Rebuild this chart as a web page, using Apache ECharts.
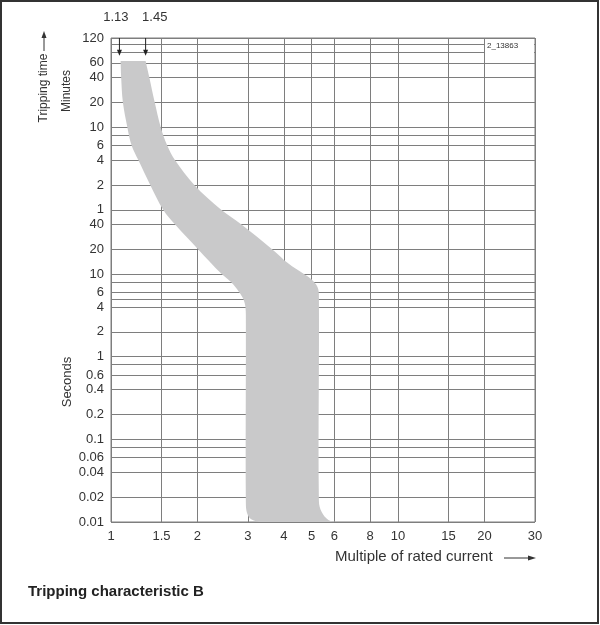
<!DOCTYPE html>
<html>
<head>
<meta charset="utf-8">
<script src="https://cdn.jsdelivr.net/npm/echarts@6/dist/echarts.min.js"></script>
<style>
html,body{margin:0;padding:0;background:#fff;}
#c{width:600px;height:625px;}
</style>
</head>
<body>
<div id="c"></div>
<script>
// ---- data (current as multiple of rated current, time in seconds) ----
const xTicks = [1, 1.5, 2, 3, 4, 5, 6, 8, 10, 15, 20, 30];
const yGridSeconds = [7200, 6000, 4800, 3600, 2400, 1200, 600, 480, 360, 240, 120, 60,
  40, 20, 10, 8, 6, 5, 4, 2, 1, 0.8, 0.6, 0.4, 0.2, 0.1, 0.08, 0.06, 0.04, 0.02, 0.01];
const yLabelSeconds = [7200, 3600, 2400, 1200, 600, 360, 240, 120, 60,
  40, 20, 10, 6, 4, 2, 1, 0.6, 0.4, 0.2, 0.1, 0.06, 0.04, 0.02, 0.01];
// left (lower-current) edge of the tripping band, top to bottom
const bandLeft = [[1.08, 3800], [1.085, 2400], [1.10, 1200], [1.14, 600], [1.18, 360],
  [1.245, 240], [1.37, 120], [1.52, 60], [1.67, 40], [2.01, 20], [2.43, 10], [2.62, 8],
  [2.80, 6], [2.89, 5], [2.94, 4], [2.95, 2.5], [2.95, 0.017], [2.98, 0.0128], [3.08, 0.0108], [3.3, 0.01]];
// right (higher-current) edge of the tripping band, bottom to top
const bandRight = [[6.15, 0.01], [5.72, 0.0106], [5.42, 0.0132], [5.3, 0.018], [5.3, 5.5],
  [5.24, 7], [5.0, 8.6], [4.70, 10], [4.14, 13.5], [3.64, 20], [2.84, 40], [2.42, 60], [1.95, 120],
  [1.67, 240], [1.57, 360], [1.49, 600], [1.42, 1200], [1.36, 2400], [1.32, 3800]];
const arrowCurrents = [1.07, 1.32];
const arrowLabels = ['1.13', '1.45'];
const arrowLabelCurrents = [1.04, 1.42];
const arrowTipSeconds = 4400;
const yMaxSeconds = 7200;
const yMinSeconds = 0.01;

const bandPolygon = bandLeft.concat(bandRight);
const FONT = 'Liberation Sans, Arial, sans-serif';
const GRID_COLOR = '#7e7e7e';

function fmtTime(v) {
  if (v >= 60) return String(Math.round(v / 60 * 1000) / 1000);
  return String(Math.round(v * 1000) / 1000);
}

const chart = echarts.init(document.getElementById('c'), null, {renderer: 'canvas'});
const option = {
  animation: false,
  backgroundColor: '#fff',
  grid: {left: 111, right: 65, top: 38, bottom: 103, show: true, borderColor: GRID_COLOR, borderWidth: 1},
  xAxis: {
    type: 'log', logBase: 10, min: 1, max: 30,
    axisLine: {show: false},
    axisTick: {show: false, customValues: xTicks},
    axisLabel: {customValues: xTicks, margin: 8, fontSize: 13, color: '#333', fontFamily: FONT,
      formatter: v => String(v)},
    splitLine: {show: true, lineStyle: {color: GRID_COLOR, width: 1}}
  },
  yAxis: {
    type: 'log', logBase: 10, min: yMinSeconds, max: yMaxSeconds,
    axisLine: {show: false},
    axisTick: {show: false, customValues: yGridSeconds},
    axisLabel: {customValues: yLabelSeconds, margin: 7, fontSize: 13, color: '#333', fontFamily: FONT,
      formatter: v => fmtTime(v)},
    splitLine: {show: true, lineStyle: {color: GRID_COLOR, width: 1}}
  },
  series: [
    {
      type: 'custom',
      coordinateSystem: 'cartesian2d',
      data: bandPolygon,
      z: 3,
      silent: true,
      renderItem: function (params, api) {
        if (params.dataIndex !== 0) return null;
        // corners of the band (top and bottom) are kept sharp by doubling them
        const sharp = [0, bandLeft.length - 1, bandLeft.length, bandPolygon.length - 1];
        const pts = [];
        bandPolygon.forEach((p, i) => {
          const c = api.coord(p);
          pts.push(c);
          if (sharp.indexOf(i) >= 0) pts.push(c.slice());
        });
        return {type: 'polygon', shape: {points: pts, smooth: 0.35}, style: {fill: '#c9c9ca', stroke: null}};
      }
    },
    {
      type: 'custom',
      coordinateSystem: 'cartesian2d',
      data: arrowCurrents.map((x, i) => [x, arrowTipSeconds, i]),
      z: 4,
      silent: true,
      renderItem: function (params, api) {
        const i = api.value(2);
        const x = api.value(0);
        const top = api.coord([x, yMaxSeconds]);
        const tip = api.coord([x, api.value(1)]);
        const lblPos = api.coord([arrowLabelCurrents[i], yMaxSeconds]);
        return {
          type: 'group',
          children: [
            {type: 'line', shape: {x1: top[0], y1: top[1], x2: tip[0], y2: tip[1] - 4},
              style: {stroke: '#222', lineWidth: 1}},
            {type: 'polygon', shape: {points: [[tip[0] - 2.5, tip[1] - 6], [tip[0] + 2.5, tip[1] - 6], [tip[0], tip[1]]]},
              style: {fill: '#222'}},
            {type: 'text', x: lblPos[0], y: lblPos[1] - 21,
              style: {text: arrowLabels[i], align: 'center', verticalAlign: 'middle', font: '13px ' + FONT, fill: '#333'}}
          ]
        };
      }
    }
  ],
  graphic: [
    {type: 'rect', shape: {x: 1, y: 1, width: 597, height: 622}, style: {fill: null, stroke: '#333', lineWidth: 2}, z: 100},
    {type: 'rect', shape: {x: 485, y: 39, width: 49, height: 14}, style: {fill: '#fff'}, z: 50},
    {type: 'text', x: 487, y: 46, style: {text: '2_13863', font: '8px ' + FONT, fill: '#333', verticalAlign: 'middle'}, z: 51},
    {type: 'text', x: 44, y: 88, rotation: Math.PI / 2,
      style: {text: 'Tripping time', font: '12px ' + FONT, fill: '#333', align: 'center', verticalAlign: 'middle'}},
    {type: 'line', shape: {x1: 44, y1: 51, x2: 44, y2: 37}, style: {stroke: '#333', lineWidth: 1}},
    {type: 'polygon', shape: {points: [[41.5, 38], [46.5, 38], [44, 31]]}, style: {fill: '#333'}},
    {type: 'text', x: 67, y: 91, rotation: Math.PI / 2,
      style: {text: 'Minutes', font: '12px ' + FONT, fill: '#333', align: 'center', verticalAlign: 'middle'}},
    {type: 'text', x: 67, y: 382, rotation: Math.PI / 2,
      style: {text: 'Seconds', font: '13px ' + FONT, fill: '#333', align: 'center', verticalAlign: 'middle'}},
    {type: 'text', x: 335, y: 557,
      style: {text: 'Multiple of rated current', font: '15px ' + FONT, fill: '#333', align: 'left', verticalAlign: 'middle'}},
    {type: 'line', shape: {x1: 504, y1: 558, x2: 530, y2: 558}, style: {stroke: '#333', lineWidth: 1}},
    {type: 'polygon', shape: {points: [[528, 555.5], [528, 560.5], [536, 558]]}, style: {fill: '#333'}},
    {type: 'text', x: 28, y: 592,
      style: {text: 'Tripping characteristic B', font: 'bold 15px ' + FONT, fill: '#222', align: 'left', verticalAlign: 'middle'}}
  ]
};
chart.setOption(option);
</script>
</body>
</html>
